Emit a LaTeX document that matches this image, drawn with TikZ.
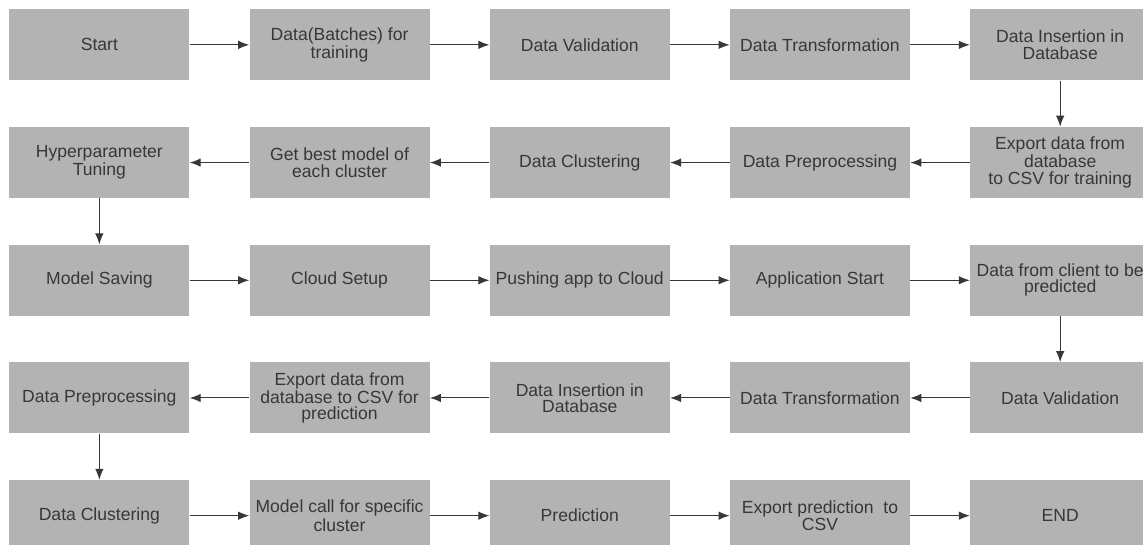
\documentclass[tikz,border=0pt]{standalone}
\usepackage{fontspec}
\setmainfont{Liberation Sans}
\usepackage{xcolor}
\definecolor{grisca}{RGB}{179,179,179}
\definecolor{grisos}{RGB}{55,55,55}
\usetikzlibrary{positioning, arrows.meta}

\begin{document}
\begin{tikzpicture}[
    caja/.style = {rectangle, fill=grisca, minimum width=3.6cm, minimum height=1.42cm,
                   inner sep=1pt, align=center, text=grisos, font=\fontsize{10}{9.3}\selectfont},
    flecha/.style = {-{Latex[length=2.2mm,width=1.7mm]}, grisos, line width=0.6pt},
    node distance = 0.92cm and 1.19cm
  ]
      \useasboundingbox (0,0) rectangle (22.86,-10.88);

      % Fila 1: entrenamiento
      \node[caja, anchor=north west] (ini) at (0.18,-0.18) {Start};
      \node[caja, right=of ini] (lotes) {Data(Batches) for\\training};
      \node[caja, right=of lotes] (valid1) {Data Validation};
      \node[caja, right=of valid1] (transf1) {Data Transformation};
      \node[caja, right=of transf1] (inser1) {Data Insertion in\\Database};

      % Fila 2
      \node[caja, below=of inser1] (export1) {Export data from\\database\\to CSV for training};
      \node[caja, left=of export1] (preproc1) {Data Preprocessing};
      \node[caja, left=of preproc1] (cluster1) {Data Clustering};
      \node[caja, left=of cluster1] (mejor) {Get best model of\\each cluster};
      \node[caja, left=of mejor] (hiper) {Hyperparameter\\Tuning};

      % Fila 3: despliegue
      \node[caja, below=of hiper] (guardar) {Model Saving};
      \node[caja, right=of guardar] (nube) {Cloud Setup};
      \node[caja, right=of nube] (subir) {Pushing app to Cloud};
      \node[caja, right=of subir] (app) {Application Start};
      \node[caja, right=of app] (cliente) {Data from client to be\\predicted};

      % Fila 4: prediccion
      \node[caja, below=of cliente] (valid2) {Data Validation};
      \node[caja, left=of valid2] (transf2) {Data Transformation};
      \node[caja, left=of transf2] (inser2) {Data Insertion in\\Database};
      \node[caja, left=of inser2] (export2) {Export data from\\database to CSV for\\prediction};
      \node[caja, left=of export2] (preproc2) {Data Preprocessing};

      % Fila 5
      \node[caja, below=of preproc2] (cluster2) {Data Clustering};
      \node[caja, right=of cluster2] (llamada) {Model call for specific\\cluster};
      \node[caja, right=of llamada] (pred) {Prediction};
      \node[caja, right=of pred] (exppred) {Export prediction\ \ to\\CSV};
      \node[caja, right=of exppred] (fin) {END};

      % Flechas
      \foreach \a/\b in {ini/lotes, lotes/valid1, valid1/transf1, transf1/inser1,
                         inser1/export1, export1/preproc1, preproc1/cluster1, cluster1/mejor, mejor/hiper,
                         hiper/guardar, guardar/nube, nube/subir, subir/app, app/cliente,
                         cliente/valid2, valid2/transf2, transf2/inser2, inser2/export2, export2/preproc2,
                         preproc2/cluster2, cluster2/llamada, llamada/pred, pred/exppred, exppred/fin}
        \draw[flecha] (\a) -- (\b);
\end{tikzpicture}
\end{document}
